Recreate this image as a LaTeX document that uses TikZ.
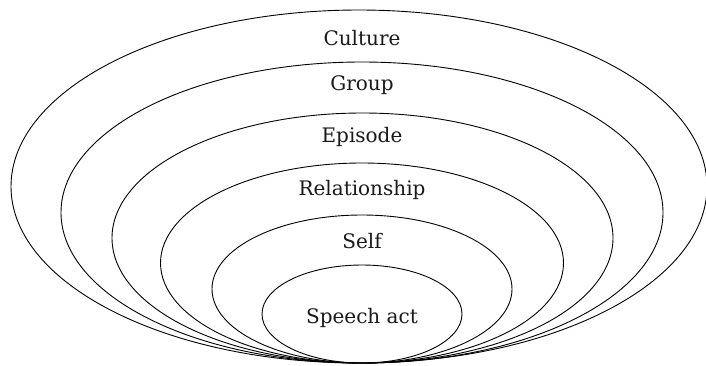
\documentclass[tikz,border=0pt]{standalone}
\usepackage{fontspec}
\setmainfont{DejaVu Serif}
\begin{document}
\begin{tikzpicture}[x=1pt,y=-1pt,line width=0.9pt]
\useasboundingbox (0,0) rectangle (706,365);
\tikzset{level/.style={font=\fontsize{20}{23}\selectfont,text=black!90}}
\draw (359,186.5) ellipse [x radius=348, y radius=176.5];
\draw (362,212.5) ellipse [x radius=301, y radius=150.5];
\draw (362.5,238) ellipse [x radius=250.5, y radius=125];
\draw (362,263) ellipse [x radius=201.5, y radius=100];
\draw (362,289) ellipse [x radius=150, y radius=74];
\draw (362,314) ellipse [x radius=100, y radius=49];
\draw node[level] (culture) at (362,38) {Culture};
\draw node[level] (group) at (362,85) {Group};
\draw node[level] (episode) at (362,137) {Episode};
\draw node[level] (relation) at (362,190) {Relationship};
\draw node[level] (self) at (362,241) {Self};
\draw node[level] (speech) at (362,318) {Speech act};
\end{tikzpicture}
\end{document}
